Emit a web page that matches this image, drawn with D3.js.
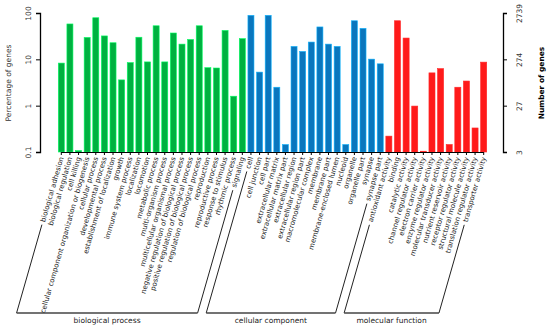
<html>
<head>
<meta charset="utf8">
<title>GO classification</title>
<style>
body { margin:0; background:white; }
text { font-family: "DejaVu Sans", sans-serif; }
</style>
<script src="https://d3js.org/d3.v7.min.js"></script>
</head>
<body>
<div id="chart"></div>
<script>
// GO terms and percentage of genes
var bpNames = ["biological adhesion", "biological regulation", "cell killing",
  "cellular component organization or biogenesis", "cellular process", "developmental process",
  "establishment of localization", "growth", "immune system process", "localization",
  "locomotion", "metabolic process", "multi-organism process", "multicellular organismal process",
  "negative regulation of biological process", "positive regulation of biological process",
  "regulation of biological process", "reproduction", "reproductive process",
  "response to stimulus", "rhythmic process", "signaling"];
var bpValues = [8.3, 58, 0.107, 29.7, 79, 32, 22.8, 3.6, 8.5, 30, 8.8, 53, 8.8, 37, 21.3, 26.8, 53, 6.6, 6.5, 42, 1.6, 28];

var ccNames = ["cell", "cell junction", "cell part", "extracellular matrix", "extracellular matrix part",
  "extracellular region", "extracellular region part", "macromolecular complex", "membrane",
  "membrane part", "membrane-enclosed lumen", "nucleoid", "organelle", "organelle part",
  "synapse", "synapse part"];
var ccValues = [89, 5.3, 89, 2.5, 0.145, 19, 14.8, 23.6, 50, 21.3, 19, 0.145, 68, 46.6, 10.1, 8];

var mfNames = ["antioxidant activity", "binding", "catalytic activity", "channel regulator activity",
  "electron carrier activity", "enzyme regulator activity", "molecular transducer activity",
  "nutrient reservoir activity", "receptor regulator activity", "structural molecule activity",
  "translation regulator activity", "transporter activity"];
var mfValues = [0.22, 68, 28.8, 0.98, 0.104, 5.1, 6.3, 0.145, 2.5, 3.4, 0.33, 8.7];

var groupNames = ["biological process", "cellular component", "molecular function"];
var groupColors = ["#00b140", "#0a76bd", "#ff1a1a"];

var leftTicks = [0.1, 1, 10, 100];
var leftLabels = ["0.1", "1", "10", "100"];
var rightLabels = ["3", "27", "274", "2739"];

var width = 550, height = 327;
var angle = 74; // 라벨 기울기
var labelY = 157;
var baseY = 313;

var rows = [];
[[bpNames, bpValues], [ccNames, ccValues], [mfNames, mfValues]].forEach(function (g, gi) {
  g[0].forEach(function (n, i) {
    rows.push({ name: n, value: g[1][i], group: gi, first: i == 0, last: i == g[0].length - 1 });
  });
});

var svg = d3.select("#chart").append("svg")
  .attr("width", width)
  .attr("height", height);

var x = d3.scaleBand()
  .domain(rows.map(function (d) { return d.name; }))
  .range([57, 488])
  .paddingInner(0.3)
  .paddingOuter(0.15);

var y = d3.scaleLog().domain([0.1, 100]).range([152, 13]);

// bars
svg.selectAll("rect.bar")
  .data(rows)
  .enter().append("rect")
  .attr("class", "bar")
  .attr("x", function (d) { return x(d.name); })
  .attr("width", x.bandwidth())
  .attr("y", function (d) { return y(d.value); })
  .attr("height", function (d) { return y(0.1) - y(d.value); })
  .attr("fill", function (d) { return groupColors[d.group]; })
  .attr("stroke", function (d) { return d3.color(groupColors[d.group]).brighter(1.2); })
  .attr("stroke-width", 0.6);

// left axis
var leftAxis = d3.axisLeft(y).tickValues(leftTicks)
  .tickFormat(function (d, i) { return leftLabels[i]; })
  .tickSizeOuter(0).tickSize(4);
var gl = svg.append("g").attr("transform", "translate(40,0)").call(leftAxis);
gl.selectAll("text")
  .attr("transform", "rotate(-90)")
  .attr("x", 0).attr("y", -9)
  .attr("dy", 0)
  .attr("text-anchor", "middle")
  .style("font-size", "7.5px")
  .attr("fill", "#333");

// right axis
var rightAxis = d3.axisRight(y).tickValues(leftTicks)
  .tickFormat(function (d, i) { return rightLabels[i]; })
  .tickSizeOuter(0).tickSize(4);
var gr = svg.append("g").attr("transform", "translate(503,0)").call(rightAxis);
gr.selectAll("text")
  .attr("transform", "rotate(-90)")
  .attr("x", 0).attr("y", 19)
  .attr("dy", 0)
  .attr("text-anchor", "middle")
  .style("font-size", "7.5px")
  .attr("fill", "#333");
svg.selectAll(".domain").attr("stroke-width", 1.3);

svg.append("text")
  .attr("transform", "translate(11,83) rotate(-90)")
  .attr("text-anchor", "middle")
  .style("font-size", "7.5px")
  .attr("fill", "#333")
  .text("Percentage of genes");

svg.append("text")
  .attr("transform", "translate(544,83) rotate(-90)")
  .attr("text-anchor", "middle")
  .style("font-size", "7.5px")
  .style("font-weight", "bold")
  .text("Number of genes");

// bottom ticks
var bottomAxis = d3.axisBottom(x).tickSize(3).tickSizeOuter(0).tickFormat("");
var gb = svg.append("g").attr("transform", "translate(0,152)").call(bottomAxis);
gb.select(".domain")
  .attr("d", "M" + (x(rows[0].name) + x.bandwidth() / 2) + ",0.5H" +
    (x(rows[rows.length - 1].name) + x.bandwidth() / 2));

// category labels
var rad = angle * Math.PI / 180;
var dx = -Math.cos(rad), dy = Math.sin(rad);
var labels = svg.selectAll("text.cat")
  .data(rows)
  .enter().append("text")
  .attr("class", "cat")
  .attr("transform", function (d) {
    return "translate(" + (x(d.name) + x.bandwidth() / 2) + "," + labelY + ") rotate(" + (-angle) + ")";
  })
  .attr("text-anchor", "end")
  .attr("dy", "0.35em")
  .style("font-size", "7px")
  .attr("fill", "#222")
  .text(function (d) { return d.name; });

// group brackets
var ends = {};
labels.each(function (d) {
  var L = this.getComputedTextLength() + 3;
  var cx = x(d.name) + x.bandwidth() / 2;
  var sx = cx + dx * L, sy = labelY + dy * L;
  var t = (baseY - labelY) / dy;
  var ex = cx + dx * t;
  if (d.first || d.last) {
    svg.append("line")
      .attr("x1", sx).attr("y1", sy)
      .attr("x2", ex).attr("y2", baseY)
      .attr("stroke", "#222").attr("stroke-width", 1);
    ends[d.group] = ends[d.group] || {};
    ends[d.group][d.first ? "a" : "b"] = ex;
  }
});

groupNames.forEach(function (g, gi) {
  svg.append("line")
    .attr("x1", ends[gi].a).attr("y1", baseY)
    .attr("x2", ends[gi].b).attr("y2", baseY)
    .attr("stroke", "#444").attr("stroke-width", 1.4);
  svg.append("text")
    .attr("x", (ends[gi].a + ends[gi].b) / 2)
    .attr("y", baseY + 10)
    .attr("text-anchor", "middle")
    .style("font-size", "7.5px")
    .attr("fill", "#222")
    .text(g);
});
</script>
</body>
</html>
